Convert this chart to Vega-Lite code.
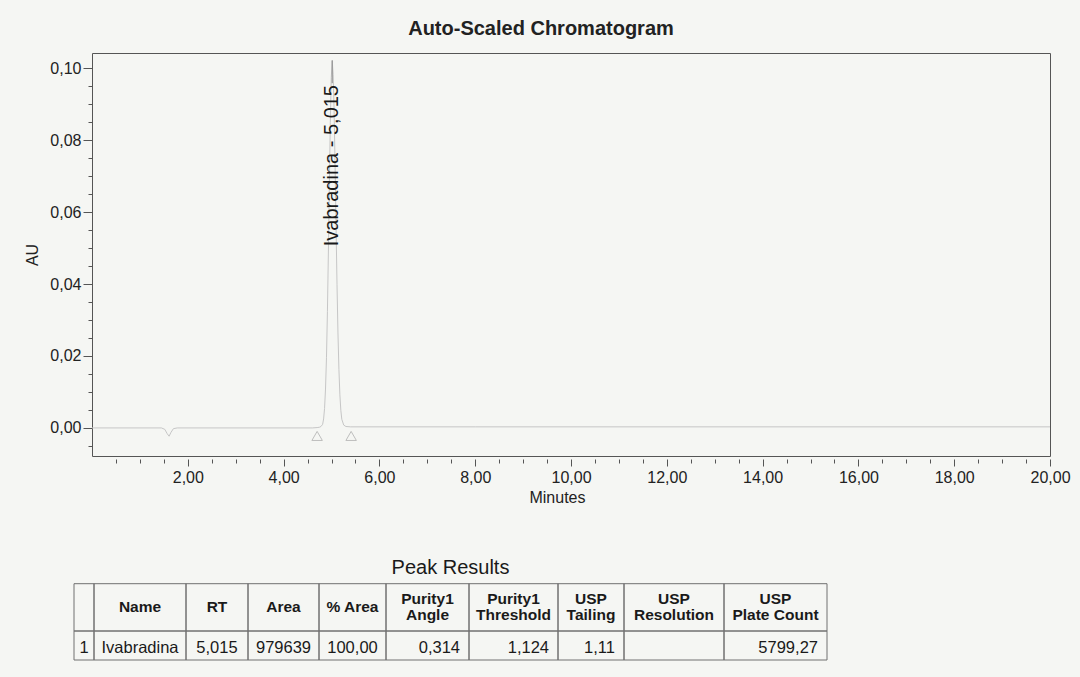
{
  "$schema": "https://vega.github.io/schema/vega-lite/v6.json",
  "background": "#f5f6f3",
  "padding": {"left": 24, "top": 18, "right": 16, "bottom": 12},
  "bounds": "flush",
  "spacing": 100,
  "datasets": {
    "trace": [
      {"t": 0.0, "au": 0.0},
      {"t": 1.45, "au": 0.0},
      {"t": 1.52, "au": -0.0004},
      {"t": 1.57, "au": -0.0016},
      {"t": 1.61, "au": -0.0023},
      {"t": 1.65, "au": -0.0012},
      {"t": 1.70, "au": -0.0002},
      {"t": 1.78, "au": 0.0},
      {"t": 4.60, "au": 0.0},
      {"t": 4.70, "au": 0.0001},
      {"t": 4.75, "au": 0.0002},
      {"t": 4.78, "au": 0.0004},
      {"t": 4.815, "au": 0.0010},
      {"t": 4.835, "au": 0.0025},
      {"t": 4.855, "au": 0.0054},
      {"t": 4.875, "au": 0.0108},
      {"t": 4.895, "au": 0.0195},
      {"t": 4.915, "au": 0.0324},
      {"t": 4.935, "au": 0.0489},
      {"t": 4.955, "au": 0.0675},
      {"t": 4.975, "au": 0.0849},
      {"t": 4.995, "au": 0.0974},
      {"t": 5.015, "au": 0.1020},
      {"t": 5.035, "au": 0.0982},
      {"t": 5.055, "au": 0.0878},
      {"t": 5.075, "au": 0.0728},
      {"t": 5.095, "au": 0.0560},
      {"t": 5.115, "au": 0.0399},
      {"t": 5.135, "au": 0.0264},
      {"t": 5.155, "au": 0.0162},
      {"t": 5.175, "au": 0.0092},
      {"t": 5.195, "au": 0.0049},
      {"t": 5.215, "au": 0.0024},
      {"t": 5.255, "au": 0.0008},
      {"t": 5.30, "au": 0.0004},
      {"t": 5.40, "au": 0.0003},
      {"t": 8.00, "au": 0.0003},
      {"t": 20.00, "au": 0.0003}
    ],
    "peaks": [
      {"name": "Ivabradina", "rt": 5.015, "label": "Ivabradina - 5,015", "start": 4.70, "end": 5.41}
    ],
    "columns": [
      {"key": "idx", "x0": -18, "x1": 2, "head": "", "val": "1"},
      {"key": "name", "x0": 2, "x1": 94, "head": "Name", "val": "Ivabradina"},
      {"key": "rt", "x0": 94, "x1": 156, "head": "RT", "val": "5,015"},
      {"key": "area", "x0": 156, "x1": 227, "head": "Area", "val": "979639"},
      {"key": "pct", "x0": 227, "x1": 294, "head": "% Area", "val": "100,00"},
      {"key": "angle", "x0": 294, "x1": 377, "head": "Purity1\nAngle", "val": "0,314"},
      {"key": "threshold", "x0": 377, "x1": 466, "head": "Purity1\nThreshold", "val": "1,124"},
      {"key": "tailing", "x0": 466, "x1": 532, "head": "USP\nTailing", "val": "1,11"},
      {"key": "resolution", "x0": 532, "x1": 632, "head": "USP\nResolution", "val": ""},
      {"key": "plates", "x0": 632, "x1": 735, "head": "USP\nPlate Count", "val": "5799,27"}
    ]
  },
  "vconcat": [
    {
      "width": 958,
      "height": 403,
      "title": {"text": "Auto-Scaled Chromatogram", "fontSize": 20, "fontWeight": "bold", "color": "#222", "dx": -30, "offset": 14},
      "resolve": {"axis": {"x": "independent", "y": "independent"}},
      "layer": [
        {
          "data": {"name": "trace"},
          "mark": {"type": "line", "color": "#c6c6c6", "strokeWidth": 1, "clip": true},
          "encoding": {
            "x": {
              "field": "t", "type": "quantitative", "title": "Minutes",
              "scale": {"domain": [0, 20], "nice": false, "zero": false},
              "axis": {
                "orient": "bottom",
                "values": [2, 4, 6, 8, 10, 12, 14, 16, 18, 20],
                "labelExpr": "replace(format(datum.value, '.2f'), '.', ',')",
                "tickSize": 7,
                "offset": 3,
                "labelPadding": 3,
                "titlePadding": 4,
                "titleX": 465,
                "domain": false,
                "grid": false,
                "labelFlush": false,
                "labelOverlap": false
              }
            },
            "y": {
              "field": "au", "type": "quantitative", "title": "AU",
              "scale": {"domain": [-0.0078, 0.1042], "nice": false, "zero": false},
              "axis": {
                "orient": "left",
                "values": [0, 0.02, 0.04, 0.06, 0.08, 0.1],
                "labelExpr": "replace(format(datum.value, '.2f'), '.', ',')",
                "tickSize": 9,
                "labelPadding": 2,
                "titlePadding": 9,
                "domain": false,
                "grid": false,
                "labelFlush": false,
                "labelOverlap": false
              }
            }
          }
        },
        {
          "data": {"name": "trace"},
          "mark": {"type": "line", "opacity": 0, "clip": true},
          "encoding": {
            "x": {
              "field": "t", "type": "quantitative",
              "axis": {
                "orient": "bottom",
                "title": null,
                "values": [0.5, 1, 1.5, 2.5, 3, 3.5, 4.5, 5, 5.5, 6.5, 7, 7.5, 8.5, 9, 9.5, 10.5, 11, 11.5, 12.5, 13, 13.5, 14.5, 15, 15.5, 16.5, 17, 17.5, 18.5, 19, 19.5],
                "labels": false,
                "tickSize": 4,
                "offset": 3,
                "domain": false,
                "grid": false
              }
            },
            "y": {
              "field": "au", "type": "quantitative",
              "axis": {
                "orient": "left",
                "title": null,
                "values": [-0.005, 0.005, 0.01, 0.015, 0.025, 0.03, 0.035, 0.045, 0.05, 0.055, 0.065, 0.07, 0.075, 0.085, 0.09, 0.095],
                "labels": false,
                "tickSize": 4,
                "domain": false,
                "grid": false
              }
            }
          }
        },
        {
          "data": {"name": "peaks"},
          "transform": [{"fold": ["start", "end"], "as": ["edge", "pos"]}],
          "mark": {"type": "point", "shape": "triangle-up", "filled": false, "color": "#a8a8a8", "size": 110, "strokeWidth": 1, "yOffset": 8},
          "encoding": {
            "x": {"field": "pos", "type": "quantitative", "axis": null},
            "y": {"datum": 0, "axis": null}
          }
        },
        {
          "data": {"name": "peaks"},
          "mark": {"type": "rule", "color": "#8a8a8a", "strokeWidth": 1},
          "encoding": {
            "x": {"field": "rt", "type": "quantitative", "axis": null},
            "y": {"datum": 0.0958, "axis": null},
            "y2": {"datum": 0.1022}
          }
        },
        {
          "data": {"name": "peaks"},
          "mark": {"type": "text", "angle": 270, "align": "left", "baseline": "middle", "fontSize": 20, "color": "#1a1a1a"},
          "encoding": {
            "x": {"field": "rt", "type": "quantitative", "axis": null},
            "y": {"datum": 0.0505, "axis": null},
            "text": {"field": "label"}
          }
        }
      ]
    },
    {
      "width": 958,
      "height": 110,
      "view": {"stroke": null},
      "data": {"name": "columns"},
      "transform": [{"calculate": "(datum.x0 + datum.x1) / 2", "as": "xc"}],
      "layer": [
        {
          "mark": {"type": "rect", "fill": null, "stroke": "#707070", "strokeWidth": 1},
          "encoding": {
            "x": {"field": "x0", "type": "quantitative", "scale": {"domain": [0, 958], "nice": false, "zero": false}, "axis": null},
            "x2": {"field": "x1"},
            "y": {"datum": 27.7, "scale": {"domain": [0, 110], "reverse": true, "nice": false, "zero": false}, "axis": null},
            "y2": {"datum": 75}
          }
        },
        {
          "mark": {"type": "rect", "fill": null, "stroke": "#707070", "strokeWidth": 1},
          "encoding": {
            "x": {"field": "x0", "type": "quantitative", "axis": null},
            "x2": {"field": "x1"},
            "y": {"datum": 75, "axis": null},
            "y2": {"datum": 104}
          }
        },
        {
          "transform": [{"filter": {"field": "key", "oneOf": ["idx", "name", "rt", "area", "pct"]}}],
          "mark": {"type": "text", "align": "center", "baseline": "middle", "fontSize": 15.5, "fontWeight": "bold", "color": "#1a1a1a"},
          "encoding": {
            "x": {"field": "xc", "type": "quantitative", "axis": null},
            "y": {"datum": 50.5, "axis": null},
            "text": {"field": "head"}
          }
        },
        {
          "transform": [{"filter": {"field": "key", "oneOf": ["angle", "threshold", "tailing", "resolution", "plates"]}}],
          "mark": {"type": "text", "align": "center", "baseline": "middle", "fontSize": 15.5, "fontWeight": "bold", "lineBreak": "\n", "lineHeight": 16, "color": "#1a1a1a"},
          "encoding": {
            "x": {"field": "xc", "type": "quantitative", "axis": null},
            "y": {"datum": 43, "axis": null},
            "text": {"field": "head"}
          }
        },
        {
          "transform": [{"filter": {"field": "key", "oneOf": ["idx", "name", "rt", "area", "pct"]}}],
          "mark": {"type": "text", "align": "center", "baseline": "middle", "fontSize": 16.5, "color": "#1a1a1a"},
          "encoding": {
            "x": {"field": "xc", "type": "quantitative", "axis": null},
            "y": {"datum": 92, "axis": null},
            "text": {"field": "val"}
          }
        },
        {
          "transform": [{"filter": {"field": "key", "oneOf": ["angle", "threshold", "tailing", "resolution", "plates"]}}],
          "mark": {"type": "text", "align": "right", "baseline": "middle", "fontSize": 16.5, "color": "#1a1a1a", "dx": -9},
          "encoding": {
            "x": {"field": "x1", "type": "quantitative", "axis": null},
            "y": {"datum": 92, "axis": null},
            "text": {"field": "val"}
          }
        },
        {
          "data": {"values": [{"caption": "Peak Results", "where": 358.5}]},
          "mark": {"type": "text", "align": "center", "baseline": "middle", "fontSize": 20, "color": "#1a1a1a"},
          "encoding": {
            "x": {"field": "where", "type": "quantitative", "axis": null},
            "y": {"datum": 12, "axis": null},
            "text": {"field": "caption"}
          }
        }
      ]
    }
  ],
  "config": {
    "font": "Liberation Sans",
    "view": {"stroke": "#555555", "strokeWidth": 1},
    "axis": {
      "labelFont": "Liberation Sans",
      "labelFontSize": 16,
      "labelColor": "#222222",
      "titleFont": "Liberation Sans",
      "titleFontSize": 16,
      "titleFontWeight": "normal",
      "titleColor": "#222222",
      "tickColor": "#555555"
    },
    "title": {"font": "Liberation Sans"}
  }
}
